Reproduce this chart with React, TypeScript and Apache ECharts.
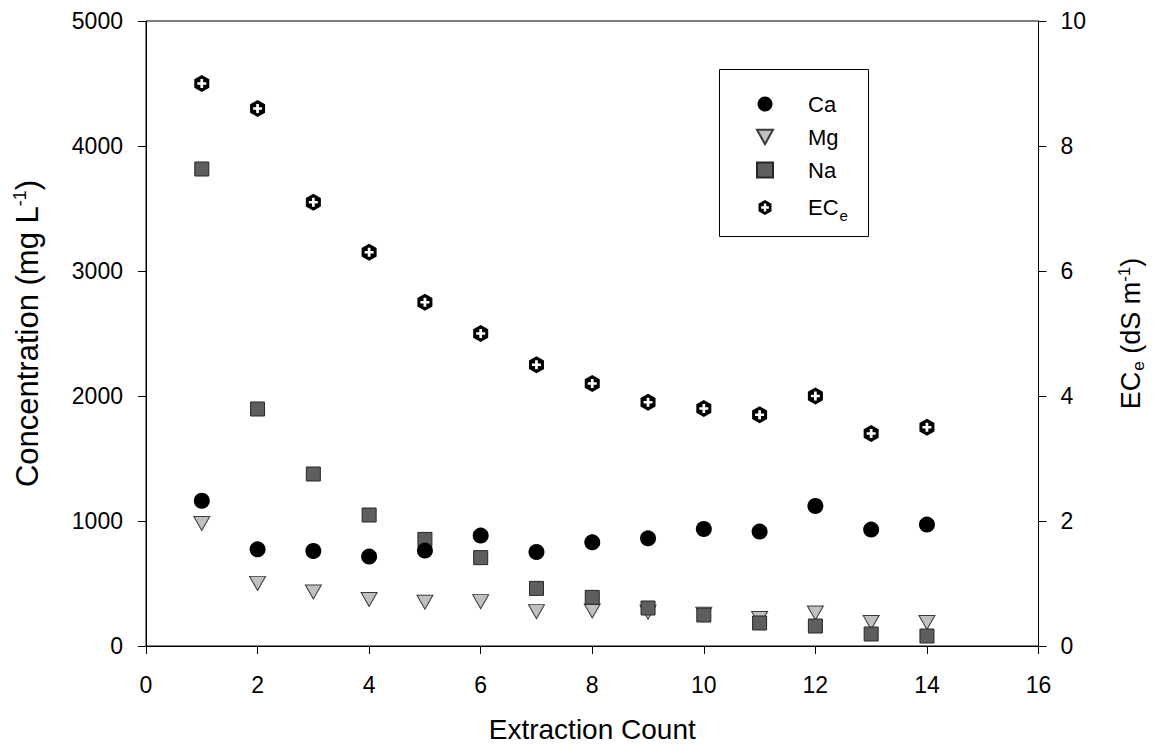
import React, { useEffect, useRef } from "react";
import * as echarts from "echarts";

const extraction = [1, 2, 3, 4, 5, 6, 7, 8, 9, 10, 11, 12, 13, 14];
const ca = [1162, 773, 760, 715, 763, 883, 752, 829, 861, 936, 915, 1120, 931, 971];
const mg = [980, 501, 432, 372, 350, 355, 275, 280, 270, 255, 220, 264, 188, 188];
const na = [3816, 1896, 1376, 1048, 853, 707, 461, 389, 304, 248, 184, 160, 96, 80];
const ece = [9.0, 8.6, 7.1, 6.3, 5.5, 5.0, 4.5, 4.2, 3.9, 3.8, 3.7, 4.0, 3.4, 3.5];

const FONT = "Liberation Sans, Arial, sans-serif";

const hexPlus =
  "path://M50 0 L93.3 25 L93.3 75 L50 100 L6.7 75 L6.7 25 Z " +
  "M42 24 L42 42 L24 42 L24 58 L42 58 L42 76 L58 76 L58 58 L76 58 L76 42 L58 42 L58 24 Z";
const downTri = "path://M0 0 L100 0 L50 90 Z";

export default function App() {
  const ref = useRef<HTMLDivElement>(null);
  useEffect(() => {
    document.body.style.margin = "0";
    const chart = echarts.init(ref.current!, null, { renderer: "svg" });
    const pts = (vals: number[]) => extraction.map((x, i) => [x, vals[i]]);
    const plain = (v: number) => String(v);
    chart.setOption({
      animation: false,
      backgroundColor: "#fff",
      textStyle: { fontFamily: FONT },
      grid: {
        left: 146,
        right: 116,
        top: 21,
        bottom: 109,
        show: true,
        borderColor: "#000",
        borderWidth: 1,
        backgroundColor: "transparent",
      },
      graphic: [
        {
          type: "rect",
          shape: { x: 719.5, y: 69.5, width: 149, height: 167 },
          style: { fill: "none", stroke: "#000", lineWidth: 1 },
          z: 10,
        },
      ],
      legend: {
        data: ["Ca", "Mg", "Na", "ECe"],
        orient: "vertical",
        left: 756,
        top: 93,
        itemWidth: 16,
        itemHeight: 15,
        itemGap: 11,
        padding: 0,
        formatter: (name: string) =>
          name === "ECe" ? "{m|EC}{s|e}" : "{m|" + name + "}",
        textStyle: {
          fontFamily: FONT,
          color: "#000",
          padding: [0, 0, 0, 30],
          rich: {
            m: { fontSize: 22, fontFamily: FONT, color: "#000", lineHeight: 22 },
            s: {
              fontSize: 15,
              fontFamily: FONT,
              color: "#000",
              lineHeight: 22,
              padding: [16, 0, 0, 1],
            },
          },
        },
      },
      xAxis: {
        type: "value",
        min: 0,
        max: 16,
        interval: 2,
        name: "Extraction Count",
        nameLocation: "middle",
        nameGap: 69,
        nameTextStyle: { fontSize: 28, color: "#000", fontFamily: FONT },
        axisLine: { show: true, lineStyle: { color: "#000", width: 1 } },
        axisTick: { show: true, inside: false, length: 8, lineStyle: { color: "#000" } },
        axisLabel: { fontSize: 23, color: "#000", margin: 27, fontFamily: FONT, formatter: plain },
        splitLine: { show: false },
      },
      yAxis: [
        {
          type: "value",
          position: "left",
          min: 0,
          max: 5000,
          interval: 1000,
          name: "{t|Concentration (mg L}{p|-1}{t|)}",
          nameLocation: "middle",
          nameGap: 103,
          nameTextStyle: {
            color: "#000",
            fontFamily: FONT,
            rich: {
              t: { fontSize: 31, fontFamily: FONT, color: "#000", lineHeight: 32 },
              p: {
                fontSize: 18,
                fontFamily: FONT,
                color: "#000",
                lineHeight: 32,
                padding: [0, 0, 14, 0],
              },
            },
          },
          axisLine: { show: true, lineStyle: { color: "#000", width: 1 } },
          axisTick: { show: true, inside: false, length: 8, lineStyle: { color: "#000" } },
          axisLabel: { fontSize: 23, color: "#000", margin: 23, fontFamily: FONT, formatter: plain },
          splitLine: { show: false },
        },
        {
          type: "value",
          position: "right",
          min: 0,
          max: 10,
          interval: 2,
          name: "{t|EC}{b|e}{t| (dS m}{p|-1}{t|)}",
          nameLocation: "middle",
          nameGap: 77,
          nameRotate: 90,
          nameTextStyle: {
            color: "#000",
            fontFamily: FONT,
            rich: {
              t: { fontSize: 27, fontFamily: FONT, color: "#000", lineHeight: 30 },
              b: {
                fontSize: 17,
                fontFamily: FONT,
                color: "#000",
                lineHeight: 30,
                padding: [16, 0, 0, 1],
              },
              p: {
                fontSize: 17,
                fontFamily: FONT,
                color: "#000",
                lineHeight: 30,
                padding: [0, 0, 13, 0],
              },
            },
          },
          axisLine: { show: true, lineStyle: { color: "#000", width: 1 } },
          axisTick: { show: true, inside: false, length: 8, lineStyle: { color: "#000" } },
          axisLabel: { fontSize: 23, color: "#000", margin: 22, fontFamily: FONT, formatter: plain },
          splitLine: { show: false },
        },
      ],
      series: [
        {
          name: "Mg",
          type: "scatter",
          yAxisIndex: 0,
          data: pts(mg),
          symbol: downTri,
          symbolSize: [16, 14],
          itemStyle: { color: "#c0c0c0", borderColor: "#3a3a3a", borderWidth: 1, opacity: 1 },
          z: 2,
        },
        {
          name: "Na",
          type: "scatter",
          yAxisIndex: 0,
          data: pts(na),
          symbol: "rect",
          symbolSize: 14,
          itemStyle: { color: "#5e5e5e", borderColor: "#262626", borderWidth: 1, opacity: 1 },
          z: 3,
        },
        {
          name: "Ca",
          type: "scatter",
          yAxisIndex: 0,
          data: pts(ca),
          symbol: "circle",
          symbolSize: 16,
          itemStyle: { color: "#000", opacity: 1 },
          z: 4,
        },
        {
          name: "ECe",
          type: "scatter",
          yAxisIndex: 1,
          data: pts(ece),
          symbol: hexPlus,
          symbolSize: [15, 17],
          itemStyle: { color: "#000", opacity: 1 },
          z: 5,
        },
      ],
    });
    return () => chart.dispose();
  }, []);
  return <div ref={ref} style={{ width: 1155, height: 755 }} />;
}
